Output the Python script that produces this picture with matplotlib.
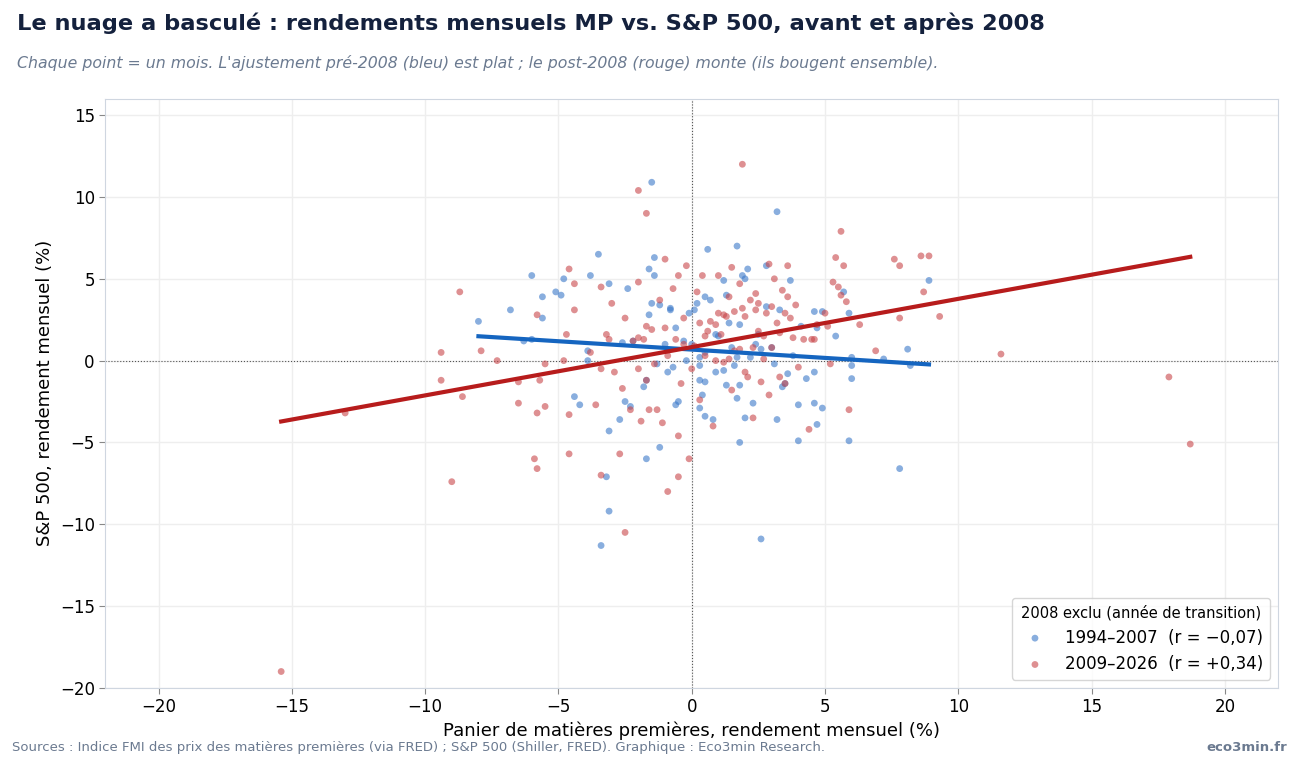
import numpy as np
import matplotlib
matplotlib.use("Agg")
import matplotlib.pyplot as plt

blue_x = [-8.0,-6.8,-6.3,-6.0,-6.0,-5.6,-5.6,-5.1,-4.9,-4.8,-4.4,-4.2,-3.9,-3.9,-3.8,-3.5,-3.4,-3.2,-3.1,-3.1,-3.1,-2.7,-2.6,-2.5,-2.4,-2.3,-2.2,-1.8,-1.7,-1.7,-1.6,-1.6,-1.5,-1.5,-1.4,-1.4,-1.3,-1.2,-1.2,-0.9,-0.8,-0.8,-0.7,-0.6,-0.5,-0.6,-0.2,-0.1,0.0,0.1,0.2,0.3,0.3,0.3,0.4,0.5,0.5,0.5,0.6,0.7,0.8,0.9,1.2,1.2,1.3,1.3,1.4,1.6,1.7,1.7,1.8,1.8,1.9,2.0,2.0,2.1,2.2,2.3,2.4,2.5,2.6,2.8,3.0,3.1,3.2,3.2,3.3,3.4,3.5,3.6,3.7,3.8,4.0,4.0,4.1,4.3,4.6,4.6,4.6,4.7,4.7,4.9,4.9,5.4,5.7,5.9,5.9,6.0,6.0,6.0,7.2,7.8,8.1,8.2,8.9,0.3,0.5,1.5,1.7,2.6,-1.0,-0.3,1.0,2.8,1.8,0.9]
blue_y = [2.4,3.1,1.2,5.2,1.3,3.9,2.6,4.2,4.0,5.0,-2.2,-2.7,0.0,0.6,5.2,6.5,-11.3,-7.1,-9.2,-4.3,4.7,-3.6,1.1,-2.5,4.4,-2.8,1.2,-1.6,-1.2,-6.0,2.8,5.6,3.5,10.9,6.3,5.2,-0.2,-5.3,3.4,-0.7,3.1,3.2,-0.4,2.0,-2.5,-2.7,0.0,2.9,1.0,3.1,3.5,-0.3,-1.2,-2.9,-2.1,-1.3,-3.4,3.9,6.8,3.7,-3.6,-0.7,-0.6,4.9,-1.5,4.0,2.3,-0.3,7.0,-2.3,-1.5,-5.0,5.2,5.0,-3.5,5.6,0.2,-2.6,1.0,1.6,-10.9,5.8,0.8,-0.2,9.1,-3.6,3.1,-1.6,-1.4,-0.8,4.9,0.3,-2.7,-4.9,2.1,-1.1,-2.6,-0.7,3.0,-3.9,2.0,3.0,-2.9,1.5,4.2,-4.9,2.9,-1.1,0.2,-0.3,0.1,-6.6,0.7,-0.3,4.9,0.2,0.5,0.8,0.2,0.7,1.0,1.2,1.5,3.3,2.2,1.6]

red_x = [-15.4,-13.0,-9.4,-9.4,-9.0,-8.7,-8.6,-7.9,-7.3,-6.5,-6.5,-5.9,-5.8,-5.8,-5.7,-5.8,-5.5,-5.5,-4.8,-4.7,-4.6,-4.6,-4.6,-4.4,-4.4,-3.8,-3.6,-3.4,-3.4,-3.4,-3.2,-3.1,-3.0,-2.9,-2.7,-2.5,-2.6,-2.5,-2.3,-2.0,-2.0,-2.0,-2.0,-1.9,-1.7,-1.7,-1.6,-1.7,-1.4,-1.3,-1.2,-1.1,-1.0,-1.0,-0.9,-0.9,-0.7,-0.6,-0.5,-0.5,-0.5,-0.4,-0.3,-0.2,-0.1,0.0,0.2,0.3,0.3,0.4,0.5,0.6,0.7,0.8,0.9,1.0,1.0,1.1,1.2,1.3,1.4,1.5,1.5,1.6,1.8,1.9,1.9,2.0,2.1,2.2,2.3,2.4,2.5,2.6,2.7,2.8,2.9,2.9,3.0,3.1,3.2,3.3,3.4,3.5,3.6,3.6,3.7,3.8,3.9,4.0,4.2,4.4,4.5,4.7,5.0,5.1,5.2,5.3,5.4,5.5,5.6,5.6,5.7,5.8,5.9,6.3,6.9,7.6,7.8,7.8,8.6,8.7,8.9,9.3,11.6,17.9,18.7,-1.8,0.1,2.5,3.0,1.6,-0.3,0.5,2.0,2.3,1.8,3.5,2.7,-2.2,-1.5,0.9,1.4,3.3,4.6,2.4,1.2]
red_y = [-19.0,-3.2,0.5,-1.2,-7.4,4.2,-2.2,0.6,0.0,-1.3,-2.6,-6.0,-6.6,-3.2,-1.2,2.8,-0.2,-2.8,0.0,1.6,-3.3,-5.7,5.6,4.7,3.1,0.5,-2.7,4.5,-0.5,-7.0,1.6,1.3,3.5,-0.7,-5.7,-10.5,-1.7,2.6,-3.0,10.4,4.8,1.4,-0.5,-3.7,9.0,2.1,-3.0,-1.2,-0.2,-3.0,3.7,-3.8,6.2,2.0,0.3,-8.0,4.4,1.3,-4.6,-7.1,5.2,-1.4,2.6,5.8,-6.0,-0.5,4.2,2.3,-2.4,5.2,0.3,1.8,2.4,-4.0,2.2,5.2,2.9,1.6,-0.1,2.7,3.9,5.7,-1.8,3.0,4.7,12.0,3.2,-0.7,-1.0,3.7,-3.5,4.1,3.5,-1.3,0.1,2.9,5.9,-2.1,3.3,5.0,2.3,-1.0,4.3,-1.4,5.8,3.9,2.6,1.4,3.4,-0.4,1.3,-4.2,1.3,2.2,2.9,2.1,-0.2,4.8,6.3,4.5,7.9,4.0,5.8,3.6,-3.0,2.2,0.6,6.2,5.8,2.6,6.4,4.2,6.4,2.7,0.4,-1.0,-5.1,1.3,0.9,1.8,0.8,0.6,1.0,1.5,2.7,0.8,0.7,2.9,1.5,1.2,1.9,0.0,0.1,1.7,1.3,3.1,2.8]

BLUE_PT, RED_PT = "#3a78c9", "#c8464a"
BLUE_LN, RED_LN = "#1565c0", "#b71c1c"

fig = plt.figure(figsize=(12.99, 7.66), dpi=100)
ax = fig.add_axes([0.081, 0.102, 0.903, 0.769])

def fmt(v):
    return ("+" if v >= 0 else "\u2212") + f"{abs(v):.2f}".replace(".", ",")

ax.scatter(blue_x, blue_y, s=24, color=BLUE_PT, alpha=0.6, edgecolors="none", zorder=3,
           label=f"1994\u20132007  (r = {fmt(-0.07)})")
ax.scatter(red_x, red_y, s=24, color=RED_PT, alpha=0.6, edgecolors="none", zorder=3,
           label=f"2009\u20132026  (r = {fmt(0.34)})")

for xs, ys, c in [(blue_x, blue_y, BLUE_LN), (red_x, red_y, RED_LN)]:
    m, b = np.polyfit(xs, ys, 1)
    xx = np.array([min(xs), max(xs)])
    ax.plot(xx, m * xx + b, color=c, lw=3, zorder=4)

ax.axhline(0, color="#555", lw=0.8, ls=":", zorder=1)
ax.axvline(0, color="#555", lw=0.8, ls=":", zorder=1)
ax.set_xlim(-22, 22)
ax.set_ylim(-20, 16)
ax.set_xticks(range(-20, 21, 5))
ax.set_yticks(range(-20, 16, 5))
ax.set_xticklabels([str(v).replace("-", "\u2212") for v in range(-20, 21, 5)])
ax.set_yticklabels([str(v).replace("-", "\u2212") for v in range(-20, 16, 5)])
ax.grid(color="#eeeeee", lw=1)
ax.set_axisbelow(True)
for s in ax.spines.values():
    s.set_color("#cfd6e0")
ax.tick_params(labelsize=12, length=4, color="#888")
ax.set_xlabel("Panier de matières premières, rendement mensuel (%)", fontsize=13, labelpad=4)
ax.set_ylabel("S&P 500, rendement mensuel (%)", fontsize=13)

leg = ax.legend(title="2008 exclu (année de transition)", loc="lower right", fontsize=12,
                title_fontsize=10.5, markerscale=1.0, frameon=True)
leg.get_frame().set_edgecolor("#cccccc")

fig.text(0.013, 0.969, "Le nuage a basculé : rendements mensuels MP vs. S&P 500, avant et après 2008",
         fontsize=16.2, fontweight="bold", color="#14213d", va="center")
fig.text(0.013, 0.918, "Chaque point = un mois. L'ajustement pré-2008 (bleu) est plat ; le post-2008 (rouge) monte (ils bougent ensemble).",
         fontsize=11.3, style="italic", color="#6b7a90", va="center")
fig.text(0.009, 0.024, "Sources : Indice FMI des prix des matières premières (via FRED) ; S&P 500 (Shiller, FRED). Graphique : Eco3min Research.",
         fontsize=9.5, color="#6b7a90", va="center")
fig.text(0.991, 0.024, "eco3min.fr", fontsize=9.5, color="#6b7a90", fontweight="bold", ha="right", va="center")

fig.savefig("out.png", dpi=100)
